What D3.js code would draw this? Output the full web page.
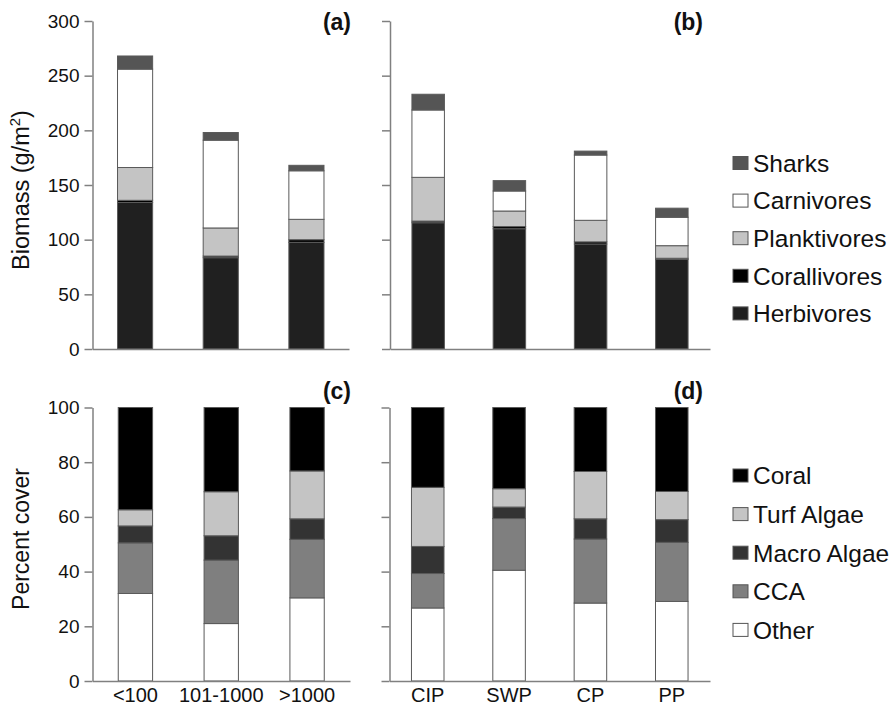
<!DOCTYPE html>
<html><head><meta charset="utf-8">
<script src="https://cdn.jsdelivr.net/npm/d3@7"></script>
<style>
body{margin:0;background:#fff;}
svg{display:block;font-family:"Liberation Sans",Arial,Helvetica,sans-serif;}
</style></head>
<body><svg id="c" width="896" height="706"></svg>
<script>
// ---- data ----
const sizeClasses = ["<100", "101-1000", ">1000"];
const regions = ["CIP", "SWP", "CP", "PP"];

const fishGroups = ["Herbivores", "Corallivores", "Planktivores", "Carnivores", "Sharks"];
const herbivoresA = [134, 83.5, 97.5];
const corallivoresA = [2, 1.5, 2.5];
const planktivoresA = [30, 25.7, 18.6];
const carnivoresA = [90, 80.3, 44.4];
const sharksA = [12, 7, 5];

const herbivoresB = [115.5, 110, 96, 82];
const corallivoresB = [1.5, 2, 2, 1];
const planktivoresB = [40, 14.2, 19.7, 11.5];
const carnivoresB = [61.6, 18.3, 59.7, 26];
const sharksB = [14.4, 9.5, 3.6, 8.3];

const coverGroups = ["Other", "CCA", "Macro Algae", "Turf Algae", "Coral"];
const otherC = [32, 21, 30.4];
const ccaC = [18.5, 23.2, 21.4];
const macroC = [6.2, 8.9, 7.5];
const turfC = [5.9, 16.1, 17.5];
const coralC = [37.4, 30.8, 23.2];

const otherD = [26.7, 40.5, 28.5, 29.1];
const ccaD = [12.6, 18.9, 23.4, 21.6];
const macroD = [9.9, 4.2, 7.4, 8.3];
const turfD = [21.6, 6.7, 17.3, 10.3];
const coralD = [29.2, 29.7, 23.4, 30.7];

const biomassTicks = [0, 50, 100, 150, 200, 250, 300];
const coverTicks = [0, 20, 40, 60, 80, 100];

// ---- styles ----
const fishColors = {"Herbivores":"#202020","Corallivores":"#000000","Planktivores":"#c4c4c4","Carnivores":"#ffffff","Sharks":"#555555"};
const coverColors = {"Other":"#ffffff","CCA":"#7f7f7f","Macro Algae":"#333333","Turf Algae":"#c4c4c4","Coral":"#000000"};
const axisColor = "#808080";
const barStroke = "#5a5a5a";

const svg = d3.select("#c");

function table(cats, keys, arrays){
  return cats.map((c,i)=>{const o={cat:c}; keys.forEach((k,j)=>o[k]=arrays[j][i]); return o;});
}

function panel(opts){
  const {cats, keys, arrays, colors, xr, yr, ydom, ticks, showYLabels, showXLabels, label, pi, po} = opts;
  const x = d3.scaleBand().domain(cats).range(xr).paddingInner(pi).paddingOuter(po);
  const y = d3.scaleLinear().domain(ydom).range(yr);
  const g = svg.append("g");
  const data = table(cats, keys, arrays);
  const series = d3.stack().keys(keys)(data);
  g.selectAll("g.s").data(series).join("g").attr("fill", d=>colors[d.key])
    .selectAll("rect").data(d=>d).join("rect")
    .attr("x", d=>x(d.data.cat)).attr("width", x.bandwidth())
    .attr("y", d=>y(d[1])).attr("height", d=>y(d[0])-y(d[1]))
    .attr("stroke", barStroke).attr("stroke-width", 1);
  // y axis
  const ya = g.append("g").attr("transform", `translate(${xr[0]},0)`)
    .call(d3.axisLeft(y).tickValues(ticks).tickSize(8).tickPadding(5).tickSizeOuter(0));
  ya.select(".domain").attr("stroke", axisColor).attr("stroke-width", 1.5);
  ya.selectAll(".tick line").attr("stroke", axisColor).attr("stroke-width", 1.5);
  ya.selectAll(".tick text").attr("font-size", 19).attr("fill", "#111")
    .attr("font-family", "Liberation Sans, Arial, sans-serif").style("display", showYLabels ? null : "none");
  // x axis
  const xa = g.append("g").attr("transform", `translate(0,${yr[0]})`)
    .call(d3.axisBottom(x).tickSize(0).tickPadding(7).tickSizeOuter(0));
  xa.select(".domain").attr("stroke", axisColor).attr("stroke-width", 1.5);
  xa.selectAll(".tick text").attr("font-size", 20).attr("fill", "#111")
    .attr("font-family", "Liberation Sans, Arial, sans-serif").style("display", showXLabels ? null : "none");
  // panel label
  g.append("text").attr("x", label.x).attr("y", label.y).attr("text-anchor", "end")
    .attr("font-size", 23).attr("font-weight", "bold").attr("fill", "#111").text(label.t);
}

panel({cats:sizeClasses, keys:fishGroups, arrays:[herbivoresA, corallivoresA, planktivoresA, carnivoresA, sharksA],
  colors:fishColors, xr:[92.5,349], yr:[349,21], ydom:[0,300], ticks:biomassTicks, showYLabels:true, showXLabels:false,
  label:{x:351,y:30,t:"(a)"}, pi:0.59, po:0.292});
panel({cats:regions, keys:fishGroups, arrays:[herbivoresB, corallivoresB, planktivoresB, carnivoresB, sharksB],
  colors:fishColors, xr:[390,710], yr:[349,21], ydom:[0,300], ticks:biomassTicks, showYLabels:false, showXLabels:false,
  label:{x:703,y:30,t:"(b)"}, pi:0.6, po:0.27});
panel({cats:sizeClasses, keys:coverGroups, arrays:[otherC, ccaC, macroC, turfC, coralC],
  colors:coverColors, xr:[92.5,350], yr:[681,407.5], ydom:[0,100], ticks:coverTicks, showYLabels:true, showXLabels:true,
  label:{x:351,y:399,t:"(c)"}, pi:0.6, po:0.3});
panel({cats:regions, keys:coverGroups, arrays:[otherD, ccaD, macroD, turfD, coralD],
  colors:coverColors, xr:[389.5,710], yr:[681,407.5], ydom:[0,100], ticks:coverTicks, showYLabels:false, showXLabels:true,
  label:{x:703,y:399,t:"(d)"}, pi:0.6, po:0.27});

// y titles
const t1 = svg.append("text").attr("transform","translate(29,190) rotate(-90)").attr("text-anchor","middle")
  .attr("font-size",23.5).attr("fill","#111");
t1.append("tspan").text("Biomass (g/m");
t1.append("tspan").attr("font-size",15).attr("dy",-9).text("2");
t1.append("tspan").attr("dy",9).text(")");
svg.append("text").attr("transform","translate(29,539) rotate(-90)").attr("text-anchor","middle")
  .attr("font-size",23).attr("fill","#111").text("Percent cover");

// legends
function legend(keys, colors, y0, step){
  const g = svg.append("g");
  const items = g.selectAll("g").data(keys).join("g").attr("transform",(d,i)=>`translate(733,${y0+i*step})`);
  items.append("rect").attr("x",0).attr("y",-6.5).attr("width",15).attr("height",13)
    .attr("fill",d=>colors[d]).attr("stroke","#555").attr("stroke-width",1);
  items.append("text").attr("x",20).attr("y",0).attr("dy","0.36em").attr("font-size",24.5).attr("fill","#111").text(d=>d);
}
legend(["Sharks","Carnivores","Planktivores","Corallivores","Herbivores"], fishColors, 163, 37.6);
legend(["Coral","Turf Algae","Macro Algae","CCA","Other"], coverColors, 475.5, 38.6);
</script></body></html>
